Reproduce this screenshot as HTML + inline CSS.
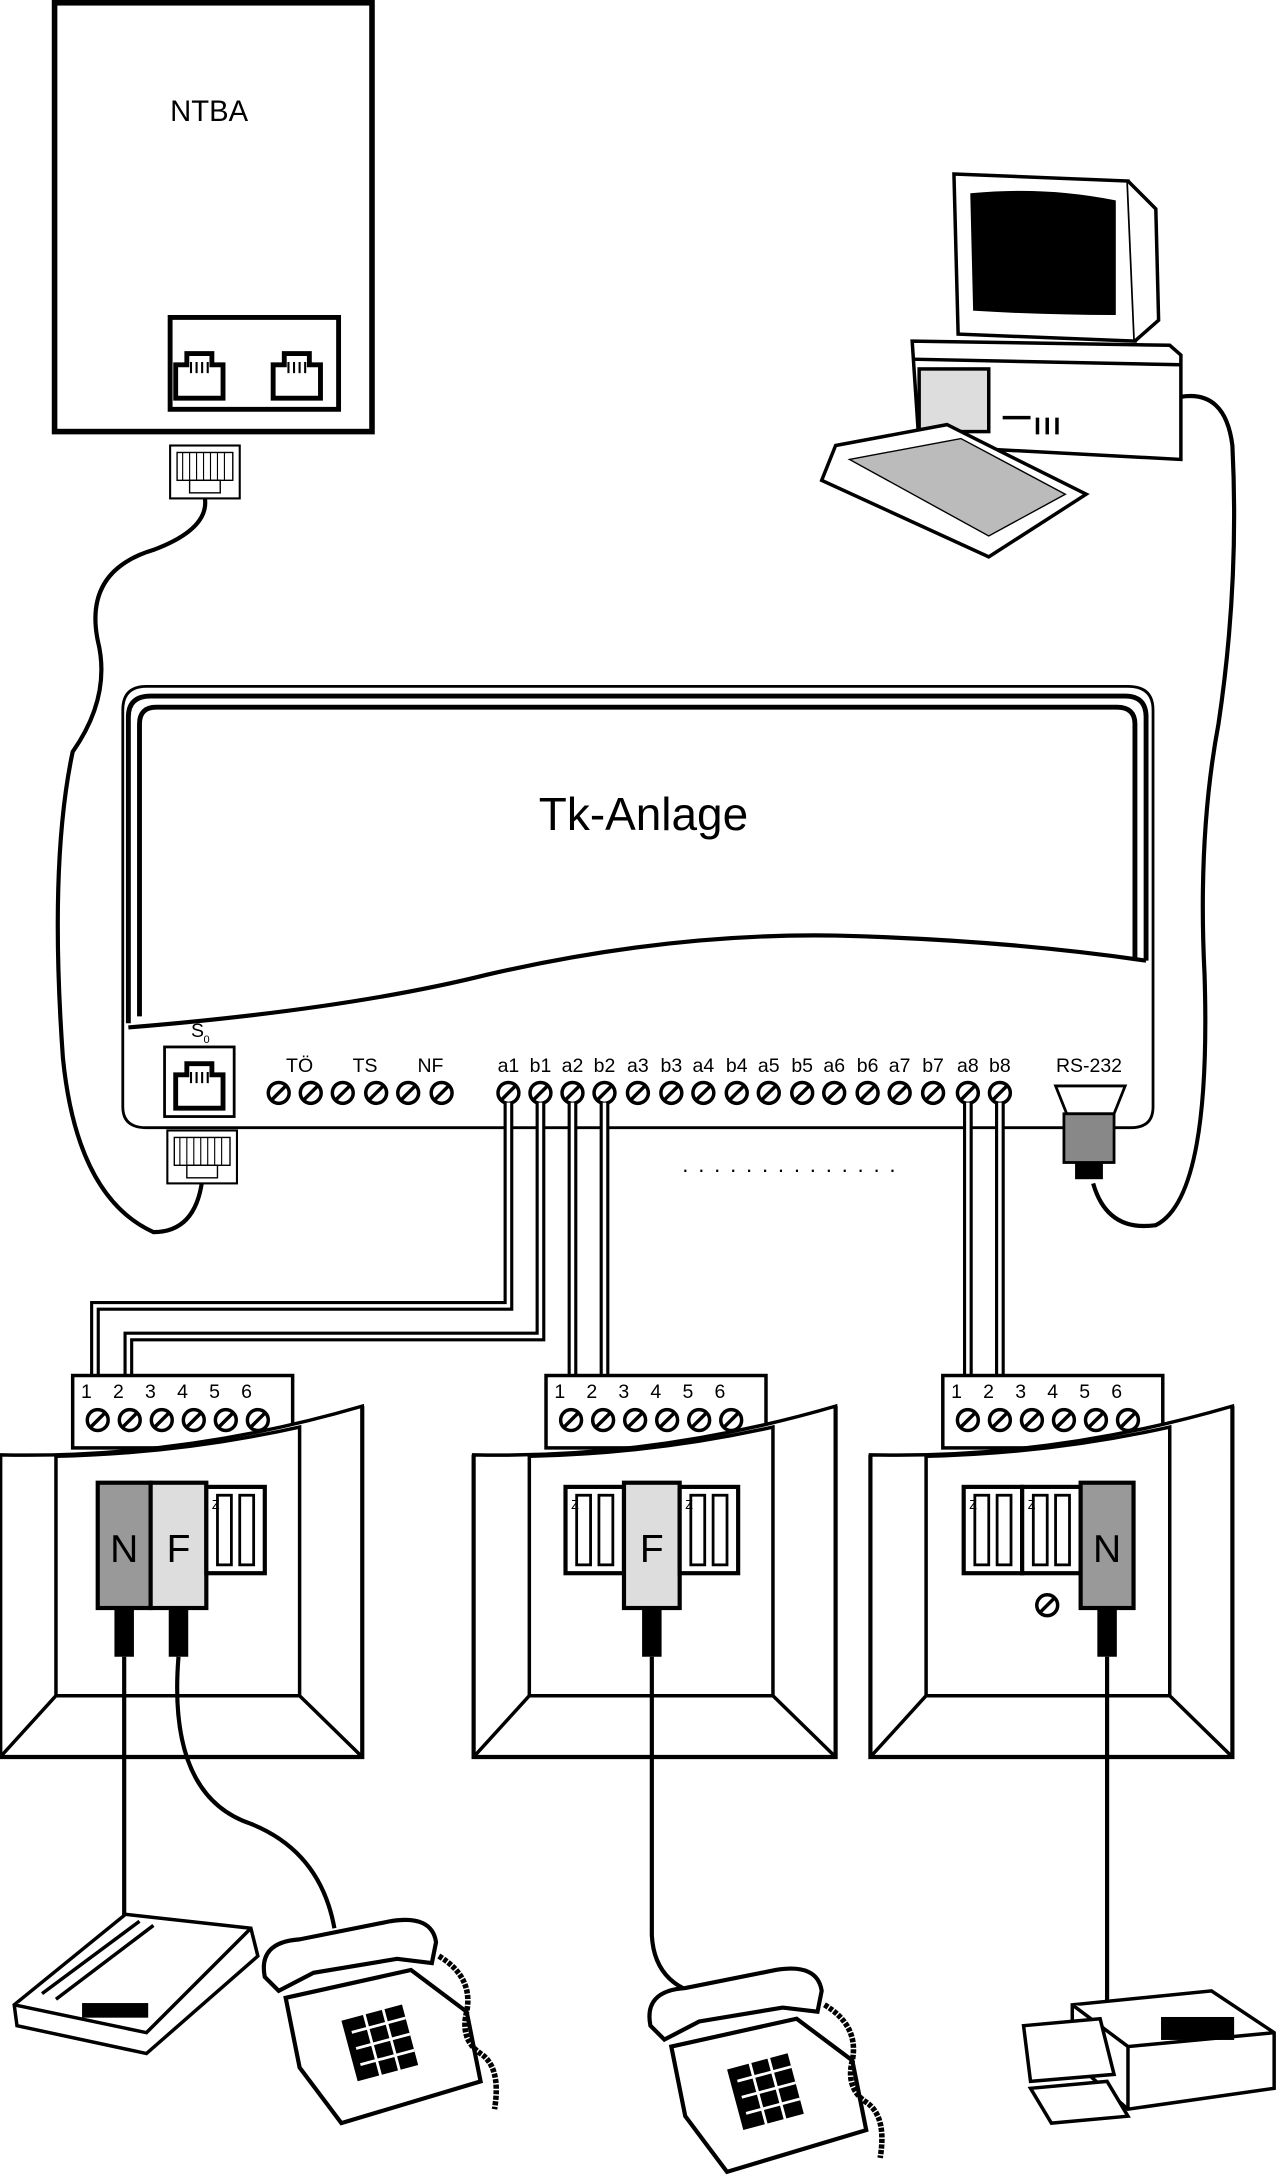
<!DOCTYPE html>
<html><head><meta charset="utf-8"><style>
html,body{margin:0;padding:0;background:#fff;}
svg{display:block;}
text{font-family:"Liberation Sans",sans-serif;fill:#000;}
</style></head><body>
<svg width="1280" height="2183" viewBox="0 0 919 1568" xmlns="http://www.w3.org/2000/svg">
<defs>
<g id="scr"><circle r="7.5" fill="#fff" stroke="#000" stroke-width="2.5"/><line x1="-5" y1="5" x2="5" y2="-5" stroke="#000" stroke-width="2.5"/></g>
<g id="plug"><rect x="0" y="0" width="50" height="38" fill="#fff" stroke="#000" stroke-width="1.5"/><rect x="5" y="5" width="40" height="20" fill="none" stroke="#000"/><path d="M9 5v20M14 5v20M19 5v20M24 5v20M29 5v20M34 5v20M39 5v20" stroke="#000" stroke-width="0.8"/><rect x="14" y="25" width="22" height="9" fill="none" stroke="#000"/></g>
<g id="jack"><path d="M0 38V14h8V6h18v8h8v24z" fill="none" stroke="#000" stroke-width="3.5"/><path d="M11 12v8M15 12v8M19 12v8M23 12v8" stroke="#000" stroke-width="1.5"/></g>
<g id="box">
 <rect x="52" y="988" width="158" height="52" fill="#fff" stroke="#000" stroke-width="2.5"/>
 <text x="58" y="1004" font-size="14">1</text><text x="81" y="1004" font-size="14">2</text><text x="104" y="1004" font-size="14">3</text><text x="127" y="1004" font-size="14">4</text><text x="150" y="1004" font-size="14">5</text><text x="173" y="1004" font-size="14">6</text>
 <use href="#scr" x="70" y="1020"/><use href="#scr" x="93" y="1020"/><use href="#scr" x="116" y="1020"/><use href="#scr" x="139" y="1020"/><use href="#scr" x="162" y="1020"/><use href="#scr" x="185" y="1020"/>
 <path d="M0 1045 Q130 1048 260 1010 V1262 H0 Z" fill="#fff" stroke="#000" stroke-width="2.5"/>
 <path d="M40 1046 Q130 1044 215 1025 V1218 H40 Z" fill="none" stroke="#000" stroke-width="2.5"/>
 <path d="M40 1218 L0 1262 M215 1218 L260 1262" stroke="#000" stroke-width="2.5"/>
 <path d="M0 1045 V1262 H260 V1010" fill="none" stroke="#000" stroke-width="3"/>
</g>
<g id="mod"><rect x="0" y="0" width="42" height="62" fill="#fff" stroke="#000" stroke-width="3"/><rect x="8" y="6" width="10" height="50" fill="none" stroke="#000" stroke-width="2"/><rect x="24" y="6" width="10" height="50" fill="none" stroke="#000" stroke-width="2"/><text x="4" y="16" font-size="9">Z</text></g>
<g id="phone">
 <path d="M20 60 L110 40 L150 70 L160 120 L60 150 L30 110 Z" fill="#fff" stroke="#000" stroke-width="3"/>
 <path d="M5 45 Q0 20 30 18 L95 5 Q125 0 128 20 L125 35 L100 32 L40 42 L15 55 Z" fill="#fff" stroke="#000" stroke-width="3"/>
 <rect x="65" y="70" width="45" height="45" transform="rotate(-15 87 92)" fill="#000"/>
 <path d="M70 80h40M70 92h40M70 104h40M82 68v50M96 68v50" stroke="#fff" stroke-width="2" transform="rotate(-15 87 92)"/>
 <path d="M130 30 q25 15 20 40 q-5 20 10 30 q15 10 10 40" fill="none" stroke="#000" stroke-width="4" stroke-dasharray="3 1"/>
</g>
</defs>

<!-- NTBA -->
<rect x="39" y="2" width="228" height="308" fill="#fff" stroke="#000" stroke-width="4"/>
<text x="150" y="87" font-size="21" text-anchor="middle">NTBA</text>
<rect x="122" y="228" width="121" height="66" fill="none" stroke="#000" stroke-width="3.5"/>
<use href="#jack" x="126" y="248"/><use href="#jack" x="196" y="248"/>
<use href="#plug" x="122" y="320"/>
<path d="M147 358 Q150 380 110 395 Q60 410 70 460 Q80 500 52 540 Q35 620 45 760 Q55 860 110 885 Q140 885 145 848" fill="none" stroke="#000" stroke-width="3"/>

<!-- computer -->
<g stroke="#000" stroke-width="2.5" fill="#fff">
 <path d="M685 125 L810 130 L815 245 L688 240 Z"/>
 <path d="M698 140 Q750 135 800 145 L800 225 Q750 225 700 222 Z" fill="#000"/>
 <path d="M810 130 L830 150 L832 230 L815 245"/>
 <path d="M655 245 L840 248 L848 255 L848 330 L660 320 Z"/>
 <path d="M655 258 L848 262"/>
 <rect x="660" y="265" width="50" height="45" fill="#ddd"/>
 <path d="M600 320 L680 305 L780 355 L710 400 L590 345 Z"/>
 <path d="M610 330 L690 315 L765 355 L710 385 Z" fill="#bbb" stroke-width="1"/>
 <path d="M720 300 h20 M745 300 v12 M752 300 v12 M759 300 v12"/>
</g>
<path d="M848 285 Q880 280 885 320 Q890 420 875 520 Q860 600 865 700 Q870 860 830 880 Q795 885 785 850" fill="none" stroke="#000" stroke-width="3"/>

<!-- Tk-Anlage -->
<path d="M88 510 Q88 493 105 493 H810 Q828 493 828 510 V795 Q828 810 812 810 H105 Q88 810 88 795 Z" fill="#fff" stroke="#000" stroke-width="2"/>
<path d="M92 735 V515 Q92 500 108 500 H808 Q823 500 823 515 V690" fill="none" stroke="#000" stroke-width="3.5"/>
<path d="M100 730 V520 Q100 508 112 508 H802 Q815 508 815 520 V690" fill="none" stroke="#000" stroke-width="3.5"/>
<path d="M92 738 Q250 725 350 700 Q480 670 600 672 Q720 675 823 690" fill="none" stroke="#000" stroke-width="3"/>
<text x="462" y="596" font-size="33" text-anchor="middle">Tk-Anlage</text>
<text x="137" y="745" font-size="14">S</text><text x="146" y="749" font-size="8">0</text>
<rect x="118" y="752" width="50" height="50" fill="#fff" stroke="#000" stroke-width="2"/>
<use href="#jack" x="126" y="758"/>
<use href="#plug" x="120" y="812"/>
<g font-size="14" text-anchor="middle">
<text x="215" y="770">TÖ</text><text x="262" y="770">TS</text><text x="309" y="770">NF</text>
<text x="365" y="770">a1</text><text x="388" y="770">b1</text><text x="411" y="770">a2</text><text x="434" y="770">b2</text>
<text x="458" y="770">a3</text><text x="482" y="770">b3</text><text x="505" y="770">a4</text><text x="529" y="770">b4</text>
<text x="552" y="770">a5</text><text x="576" y="770">b5</text><text x="599" y="770">a6</text><text x="623" y="770">b6</text>
<text x="646" y="770">a7</text><text x="670" y="770">b7</text><text x="695" y="770">a8</text><text x="718" y="770">b8</text>
<text x="782" y="770">RS-232</text>
</g>
<g>
<use href="#scr" x="200" y="785"/><use href="#scr" x="223" y="785"/><use href="#scr" x="246" y="785"/><use href="#scr" x="270" y="785"/><use href="#scr" x="293" y="785"/><use href="#scr" x="317" y="785"/>
<use href="#scr" x="365" y="785"/><use href="#scr" x="388" y="785"/><use href="#scr" x="411" y="785"/><use href="#scr" x="434" y="785"/>
<use href="#scr" x="458" y="785"/><use href="#scr" x="482" y="785"/><use href="#scr" x="505" y="785"/><use href="#scr" x="529" y="785"/>
<use href="#scr" x="552" y="785"/><use href="#scr" x="576" y="785"/><use href="#scr" x="599" y="785"/><use href="#scr" x="623" y="785"/>
<use href="#scr" x="646" y="785"/><use href="#scr" x="670" y="785"/><use href="#scr" x="695" y="785"/><use href="#scr" x="718" y="785"/>
</g>
<!-- RS232 connector -->
<path d="M758 780 H808 L800 800 H766 Z" fill="#fff" stroke="#000" stroke-width="2"/>
<rect x="764" y="800" width="36" height="35" fill="#888" stroke="#000" stroke-width="2"/>
<rect x="772" y="835" width="20" height="12" fill="#000"/>
<text x="570" y="842" font-size="16" text-anchor="middle" letter-spacing="7">..............</text>

<!-- wires -->
<g fill="none" stroke="#000" stroke-width="7">
<path d="M365 792 V938 H68 V1015"/><path d="M388 792 V960 H92 V1015"/>
<path d="M411 792 V1015"/><path d="M434 792 V1015"/>
<path d="M695 792 V1015"/><path d="M718 792 V1015"/>
</g>
<g fill="none" stroke="#fff" stroke-width="2.5">
<path d="M365 792 V938 H68 V1015"/><path d="M388 792 V960 H92 V1015"/>
<path d="M411 792 V1015"/><path d="M434 792 V1015"/>
<path d="M695 792 V1015"/><path d="M718 792 V1015"/>
</g>

<!-- boxes -->
<use href="#box"/>
<use href="#box" x="340"/>
<use href="#box" x="625"/>
<!-- left modules -->
<rect x="70" y="1065" width="38" height="90" fill="#999" stroke="#000" stroke-width="3"/><text x="89" y="1122" font-size="28" text-anchor="middle" fill="#fff">N</text>
<rect x="108" y="1065" width="40" height="90" fill="#ddd" stroke="#000" stroke-width="3"/><text x="128" y="1122" font-size="28" text-anchor="middle" fill="#fff">F</text>
<use href="#mod" x="148" y="1068"/>
<rect x="82" y="1155" width="14" height="35" fill="#000"/><rect x="121" y="1155" width="14" height="35" fill="#000"/>
<!-- middle modules -->
<use href="#mod" x="406" y="1068"/>
<rect x="448" y="1065" width="40" height="90" fill="#ddd" stroke="#000" stroke-width="3"/><text x="468" y="1122" font-size="28" text-anchor="middle" fill="#fff">F</text>
<use href="#mod" x="488" y="1068"/>
<rect x="461" y="1155" width="14" height="35" fill="#000"/>
<!-- right modules -->
<use href="#mod" x="692" y="1068"/><use href="#mod" x="734" y="1068"/>
<rect x="776" y="1065" width="38" height="90" fill="#999" stroke="#000" stroke-width="3"/><text x="795" y="1122" font-size="28" text-anchor="middle" fill="#fff">N</text>
<rect x="788" y="1155" width="14" height="35" fill="#000"/>
<use href="#scr" x="752" y="1153"/>

<!-- device cables -->
<g fill="none" stroke="#000" stroke-width="3">
<path d="M89 1190 V1380"/>
<path d="M128 1190 Q120 1290 180 1310 Q230 1330 240 1385"/>
<path d="M468 1190 V1390 Q470 1430 515 1435"/>
<path d="M795 1190 V1440"/>
</g>

<!-- answering machine -->
<g stroke="#000" stroke-width="2.5" fill="#fff">
<path d="M10 1440 L90 1375 L180 1385 L185 1405 L105 1475 L12 1455 Z"/>
<path d="M10 1440 L105 1460 L180 1385"/>
<path d="M30 1432 L100 1380 M40 1436 L110 1383"/>
<rect x="60" y="1440" width="45" height="8" fill="#000"/>
</g>
<use href="#phone" x="185" y="1375"/>
<use href="#phone" x="462" y="1410"/>
<!-- fax -->
<g stroke="#000" stroke-width="2.5" fill="#fff">
<path d="M770 1440 L870 1430 L915 1460 L915 1500 L810 1515 L770 1480 Z"/>
<path d="M770 1440 L810 1470 L915 1460 M810 1470 V1515"/>
<path d="M735 1455 L790 1450 L800 1490 L740 1495 Z"/>
<path d="M740 1500 L795 1495 L810 1520 L755 1525 Z"/>
<rect x="835" y="1450" width="50" height="14" fill="#000"/>
</g>
</svg>
</body></html>
